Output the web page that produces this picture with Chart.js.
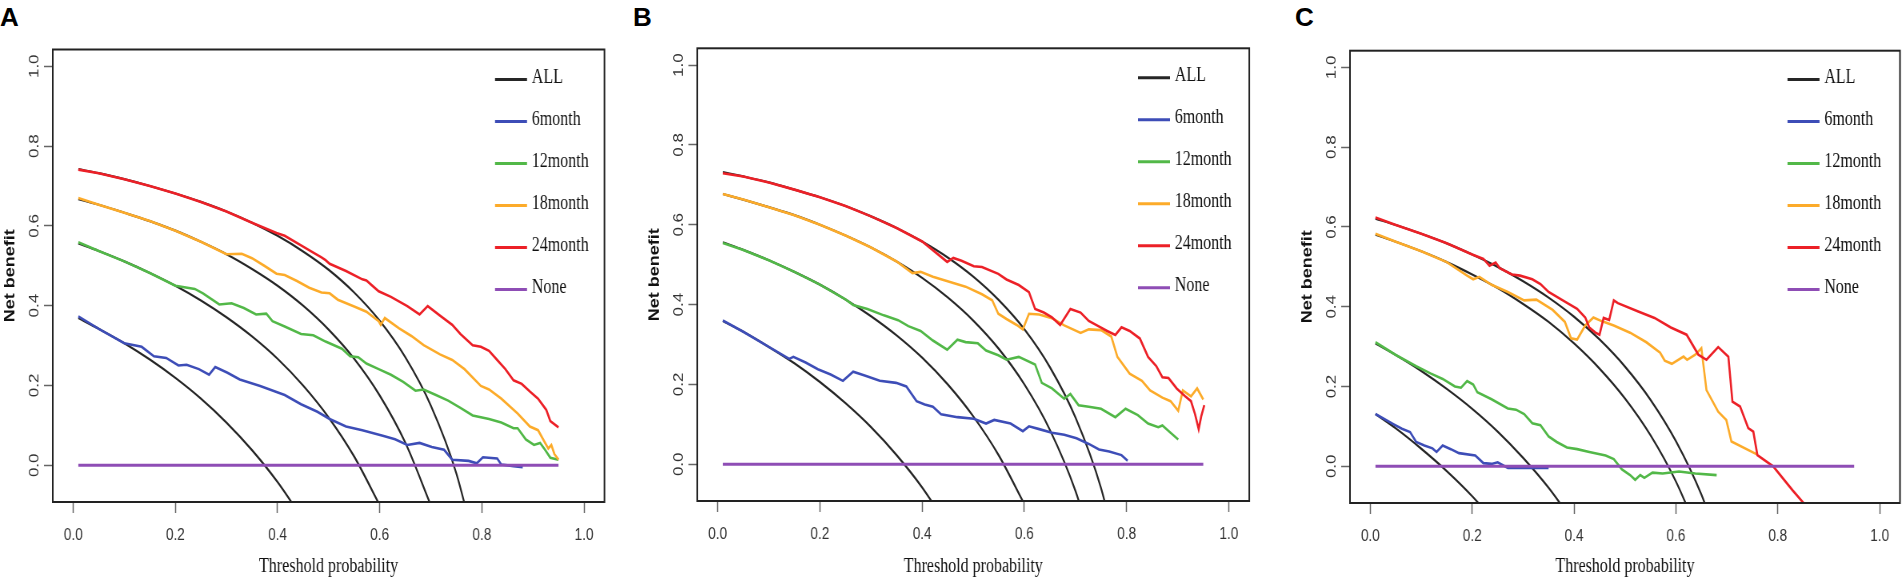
<!DOCTYPE html>
<html>
<head>
<meta charset="utf-8">
<script src="https://cdn.jsdelivr.net/npm/chart.js@4.4.1/dist/chart.umd.min.js"></script>
<style>
html, body { margin: 0; padding: 0; background: #fff; }
body { width: 1903px; height: 580px; position: relative; overflow: hidden; }
.panel { position: absolute; top: 0; transform: scaleX(0.8); transform-origin: 0 0; }
.tag { position: absolute; top: 3.6px; font: bold 26px "Liberation Sans", Arial, sans-serif; line-height: 26px; color: #000; }
</style>
</head>
<body>
<div class="tag" style="left:0px">A</div>
<div class="tag" style="left:633px">B</div>
<div class="tag" style="left:1295px">C</div>
<div class="panel" style="left:0px"><canvas id="cA" width="775" height="580"></canvas></div>
<div class="panel" style="left:630px"><canvas id="cB" width="800" height="580"></canvas></div>
<div class="panel" style="left:1270px"><canvas id="cC" width="791" height="580"></canvas></div>
<script>
// ticks
const X_TICKS = [0, 0.2, 0.4, 0.6, 0.8, 1.0];
const Y_TICKS = [0, 0.2, 0.4, 0.6, 0.8, 1.0];
const LEGEND_LABELS = ['ALL', '6month', '12month', '18month', '24month', 'None'];

// "treat all" curves, read at these thresholds (null = below the plot)
const T_ALL = [0.01, 0.05, 0.10, 0.15, 0.20, 0.25, 0.30, 0.35, 0.40, 0.45, 0.50, 0.55, 0.60, 0.65, 0.70, 0.75, 0.80];
const NONE_T = [0.01, 0.95];
const NONE_V = [0, 0];

// ---- panel A ----
const A_ALL6  = [0.369, 0.342, 0.306, 0.265, 0.219, 0.167, 0.107, 0.038, -0.042, -0.136, null, null, null, null, null, null, null];
const A_ALL12 = [0.556, 0.537, 0.511, 0.482, 0.450, 0.413, 0.371, 0.323, 0.267, 0.200, 0.120, 0.022, -0.100, null, null, null, null];
const A_ALL18 = [0.667, 0.653, 0.633, 0.612, 0.588, 0.560, 0.529, 0.492, 0.450, 0.400, 0.340, 0.267, 0.175, 0.057, -0.100, null, null];
const A_ALL24 = [0.742, 0.732, 0.717, 0.700, 0.681, 0.660, 0.636, 0.608, 0.575, 0.536, 0.490, 0.433, 0.362, 0.271, 0.150, -0.020, -0.275];

const A_T24 = [0.01, 0.05, 0.1, 0.15, 0.2, 0.25, 0.3, 0.35, 0.398, 0.414, 0.446, 0.47, 0.486, 0.494, 0.502, 0.534, 0.566, 0.574, 0.582, 0.598, 0.622, 0.654, 0.678, 0.694, 0.718, 0.742, 0.758, 0.782, 0.798, 0.814, 0.83, 0.846, 0.862, 0.878, 0.894, 0.91, 0.926, 0.934, 0.95];
const A_NB24 = [0.741, 0.732, 0.717, 0.70, 0.681, 0.66, 0.636, 0.608, 0.582, 0.575, 0.551, 0.533, 0.521, 0.514, 0.505, 0.487, 0.466, 0.463, 0.454, 0.436, 0.422, 0.399, 0.378, 0.399, 0.375, 0.352, 0.329, 0.301, 0.297, 0.287, 0.264, 0.241, 0.213, 0.204, 0.185, 0.167, 0.139, 0.111, 0.095];
const A_T18 = [0.01, 0.05, 0.1, 0.15, 0.2, 0.25, 0.3, 0.33, 0.35, 0.374, 0.398, 0.414, 0.438, 0.462, 0.486, 0.502, 0.518, 0.55, 0.574, 0.598, 0.602, 0.61, 0.638, 0.662, 0.686, 0.718, 0.742, 0.766, 0.798, 0.814, 0.838, 0.87, 0.894, 0.91, 0.922, 0.93, 0.936, 0.942, 0.95];
const A_NB18 = [0.67, 0.653, 0.633, 0.612, 0.588, 0.56, 0.529, 0.53, 0.519, 0.50, 0.48, 0.477, 0.462, 0.445, 0.433, 0.431, 0.415, 0.398, 0.385, 0.361, 0.352, 0.369, 0.343, 0.324, 0.301, 0.278, 0.264, 0.241, 0.199, 0.19, 0.167, 0.13, 0.097, 0.088, 0.06, 0.042, 0.051, 0.028, 0.014];
const A_T12 = [0.01, 0.05, 0.1, 0.15, 0.2, 0.238, 0.254, 0.286, 0.31, 0.334, 0.358, 0.378, 0.39, 0.414, 0.446, 0.47, 0.494, 0.526, 0.542, 0.558, 0.574, 0.598, 0.622, 0.646, 0.67, 0.686, 0.71, 0.734, 0.758, 0.782, 0.814, 0.838, 0.862, 0.87, 0.886, 0.902, 0.914, 0.922, 0.934, 0.95];
const A_NB12 = [0.559, 0.537, 0.511, 0.482, 0.45, 0.442, 0.431, 0.403, 0.406, 0.394, 0.378, 0.38, 0.361, 0.348, 0.329, 0.326, 0.31, 0.292, 0.273, 0.271, 0.255, 0.241, 0.227, 0.209, 0.187, 0.19, 0.176, 0.162, 0.144, 0.125, 0.116, 0.107, 0.093, 0.093, 0.065, 0.051, 0.056, 0.042, 0.019, 0.014];
const A_T6 = [0.01, 0.05, 0.1, 0.134, 0.158, 0.182, 0.206, 0.222, 0.246, 0.266, 0.278, 0.302, 0.326, 0.366, 0.414, 0.446, 0.478, 0.502, 0.534, 0.566, 0.606, 0.63, 0.654, 0.678, 0.702, 0.726, 0.742, 0.774, 0.79, 0.802, 0.83, 0.838, 0.862, 0.88];
const A_NB6 = [0.373, 0.342, 0.306, 0.297, 0.273, 0.269, 0.25, 0.252, 0.241, 0.227, 0.246, 0.232, 0.215, 0.199, 0.176, 0.153, 0.134, 0.116, 0.097, 0.088, 0.074, 0.065, 0.051, 0.056, 0.046, 0.039, 0.014, 0.011, 0.005, 0.02, 0.017, 0.002, -0.002, -0.005];

// ---- panel B ----
const B_ALL6  = [0.359, 0.332, 0.294, 0.253, 0.206, 0.153, 0.093, 0.023, -0.058, -0.155, null, null, null, null, null, null, null];
const B_ALL12 = [0.556, 0.537, 0.511, 0.482, 0.450, 0.413, 0.371, 0.323, 0.267, 0.200, 0.120, 0.022, -0.100, null, null, null, null];
const B_ALL18 = [0.677, 0.663, 0.644, 0.624, 0.600, 0.573, 0.543, 0.508, 0.467, 0.418, 0.360, 0.289, 0.200, 0.086, -0.067, -0.280, null];
const B_ALL24 = [0.732, 0.721, 0.706, 0.688, 0.669, 0.647, 0.621, 0.592, 0.558, 0.518, 0.470, 0.411, 0.338, 0.243, 0.117, -0.060, -0.325];

const B_T24 = [0.01, 0.05, 0.1, 0.15, 0.2, 0.25, 0.3, 0.35, 0.4, 0.449, 0.461, 0.477, 0.501, 0.517, 0.549, 0.565, 0.589, 0.609, 0.621, 0.638, 0.654, 0.67, 0.69, 0.71, 0.726, 0.742, 0.762, 0.778, 0.79, 0.806, 0.826, 0.842, 0.858, 0.87, 0.882, 0.898, 0.914, 0.926, 0.934, 0.941, 0.946, 0.952];
const B_NB24 = [0.729, 0.721, 0.706, 0.688, 0.669, 0.647, 0.621, 0.592, 0.558, 0.507, 0.517, 0.51, 0.496, 0.494, 0.477, 0.463, 0.449, 0.431, 0.389, 0.38, 0.368, 0.349, 0.389, 0.38, 0.359, 0.348, 0.334, 0.324, 0.343, 0.334, 0.315, 0.269, 0.246, 0.218, 0.216, 0.19, 0.171, 0.158, 0.125, 0.088, 0.12, 0.148];
const B_T18 = [0.01, 0.05, 0.1, 0.15, 0.2, 0.25, 0.3, 0.35, 0.381, 0.397, 0.421, 0.461, 0.485, 0.517, 0.537, 0.549, 0.565, 0.585, 0.597, 0.609, 0.629, 0.654, 0.678, 0.71, 0.726, 0.75, 0.77, 0.782, 0.806, 0.83, 0.846, 0.87, 0.886, 0.901, 0.91, 0.926, 0.938, 0.95];
const B_NB18 = [0.677, 0.663, 0.644, 0.624, 0.60, 0.573, 0.543, 0.508, 0.479, 0.482, 0.47, 0.454, 0.445, 0.426, 0.411, 0.377, 0.364, 0.349, 0.338, 0.377, 0.375, 0.366, 0.348, 0.329, 0.338, 0.336, 0.32, 0.269, 0.227, 0.209, 0.185, 0.167, 0.158, 0.134, 0.185, 0.17, 0.19, 0.162];
const B_T12 = [0.01, 0.05, 0.1, 0.15, 0.2, 0.25, 0.265, 0.293, 0.325, 0.353, 0.373, 0.397, 0.421, 0.449, 0.469, 0.485, 0.509, 0.525, 0.549, 0.565, 0.589, 0.621, 0.634, 0.654, 0.678, 0.69, 0.706, 0.726, 0.75, 0.778, 0.798, 0.822, 0.842, 0.862, 0.87, 0.886, 0.901];
const B_NB12 = [0.554, 0.537, 0.511, 0.482, 0.45, 0.413, 0.399, 0.389, 0.373, 0.361, 0.346, 0.334, 0.31, 0.287, 0.312, 0.306, 0.303, 0.285, 0.273, 0.262, 0.269, 0.25, 0.204, 0.19, 0.164, 0.176, 0.148, 0.144, 0.139, 0.118, 0.139, 0.123, 0.102, 0.093, 0.097, 0.079, 0.062];
const B_T6 = [0.01, 0.05, 0.1, 0.14, 0.148, 0.172, 0.196, 0.221, 0.245, 0.265, 0.289, 0.317, 0.349, 0.369, 0.389, 0.405, 0.421, 0.437, 0.469, 0.501, 0.525, 0.541, 0.573, 0.597, 0.609, 0.629, 0.654, 0.678, 0.702, 0.726, 0.746, 0.766, 0.79, 0.802];
const B_NB6 = [0.36, 0.332, 0.294, 0.264, 0.269, 0.255, 0.238, 0.225, 0.209, 0.232, 0.222, 0.209, 0.204, 0.195, 0.158, 0.15, 0.144, 0.125, 0.118, 0.114, 0.102, 0.111, 0.102, 0.083, 0.095, 0.088, 0.079, 0.074, 0.065, 0.051, 0.037, 0.032, 0.023, 0.009];

// ---- panel C ----
const C_ALL6  = [0.131, 0.095, 0.044, -0.012, -0.075, -0.147, null, null, null, null, null, null, null, null, null, null, null];
const C_ALL12 = [0.308, 0.279, 0.239, 0.194, 0.144, 0.087, 0.021, -0.054, -0.142, null, null, null, null, null, null, null, null];
const C_ALL18 = [0.581, 0.563, 0.539, 0.512, 0.481, 0.447, 0.407, 0.362, 0.308, 0.245, 0.170, 0.078, -0.038, -0.186, null, null, null];
const C_ALL24 = [0.621, 0.605, 0.583, 0.559, 0.531, 0.500, 0.464, 0.423, 0.375, 0.318, 0.250, 0.167, 0.063, -0.071, -0.250, null, null];

const C_T24 = [0.01, 0.05, 0.1, 0.15, 0.2, 0.222, 0.234, 0.246, 0.254, 0.278, 0.294, 0.318, 0.334, 0.35, 0.382, 0.406, 0.422, 0.43, 0.442, 0.45, 0.458, 0.469, 0.478, 0.486, 0.526, 0.558, 0.59, 0.621, 0.644, 0.66, 0.683, 0.703, 0.711, 0.726, 0.742, 0.752, 0.76, 0.791, 0.829, 0.85, 0.86];
const C_NB24 = [0.624, 0.605, 0.583, 0.559, 0.531, 0.52, 0.503, 0.511, 0.497, 0.481, 0.478, 0.469, 0.457, 0.437, 0.413, 0.395, 0.373, 0.348, 0.335, 0.33, 0.372, 0.367, 0.416, 0.409, 0.388, 0.372, 0.348, 0.33, 0.28, 0.267, 0.299, 0.275, 0.162, 0.15, 0.096, 0.087, 0.028, 0.0, -0.06, -0.091, -0.11];
const C_T18 = [0.01, 0.05, 0.1, 0.15, 0.19, 0.202, 0.214, 0.238, 0.27, 0.302, 0.326, 0.358, 0.382, 0.394, 0.406, 0.422, 0.438, 0.454, 0.478, 0.51, 0.542, 0.569, 0.578, 0.592, 0.615, 0.622, 0.638, 0.65, 0.66, 0.683, 0.699, 0.709, 0.759];
const C_NB18 = [0.583, 0.563, 0.539, 0.512, 0.478, 0.469, 0.475, 0.455, 0.437, 0.416, 0.418, 0.392, 0.362, 0.321, 0.318, 0.353, 0.373, 0.364, 0.353, 0.335, 0.311, 0.285, 0.265, 0.257, 0.275, 0.267, 0.28, 0.296, 0.191, 0.137, 0.116, 0.062, 0.03];
const C_T12 = [0.01, 0.05, 0.09, 0.118, 0.142, 0.166, 0.178, 0.19, 0.202, 0.21, 0.238, 0.27, 0.286, 0.302, 0.318, 0.334, 0.35, 0.366, 0.386, 0.406, 0.43, 0.462, 0.478, 0.494, 0.51, 0.52, 0.53, 0.538, 0.554, 0.574, 0.606, 0.638, 0.68];
const C_NB12 = [0.311, 0.279, 0.251, 0.233, 0.219, 0.2, 0.197, 0.214, 0.205, 0.186, 0.168, 0.145, 0.142, 0.131, 0.108, 0.103, 0.075, 0.061, 0.047, 0.043, 0.036, 0.027, 0.018, -0.008, -0.022, -0.034, -0.022, -0.029, -0.016, -0.018, -0.013, -0.018, -0.022];
const C_T6 = [0.01, 0.046, 0.062, 0.078, 0.09, 0.106, 0.122, 0.13, 0.142, 0.158, 0.174, 0.206, 0.222, 0.238, 0.25, 0.27, 0.31, 0.35];
const C_NB6 = [0.131, 0.105, 0.094, 0.086, 0.061, 0.052, 0.045, 0.036, 0.052, 0.043, 0.033, 0.027, 0.008, 0.006, 0.01, -0.004, -0.004, -0.004];

const COL = { all: '#262626', m6: '#3d4db7', m12: '#52b848', m18: '#fcab2a', m24: '#ec2027', none: '#8e4db5' };
const LEGEND_COLORS = [COL.all, COL.m6, COL.m12, COL.m18, COL.m24, COL.none];

const SANS = '"Liberation Sans", Arial, sans-serif';
const SERIF = '"Liberation Serif", "Times New Roman", serif';

function series(t, v, color, width, smooth) {
  return {
    data: t.map((x, i) => ({ x: x, y: v[i] })),
    borderColor: color,
    borderWidth: width,
    pointRadius: 0,
    fill: false,
    tension: 0,
    cubicInterpolationMode: smooth ? 'monotone' : 'default',
    spanGaps: false
  };
}

// box round the plot region, like R's bty="o"
const boxPlugin = {
  id: 'rBox',
  afterDatasetsDraw(chart) {
    const a = chart.chartArea, ctx = chart.ctx;
    ctx.save();
    ctx.strokeStyle = '#222';
    ctx.lineWidth = 2;
    ctx.strokeRect(a.left, a.top, a.right - a.left, a.bottom - a.top);
    ctx.restore();
  }
};

// legend inside the plot, line then label
const legendPlugin = {
  id: 'rLegend',
  afterDraw(chart, args, opts) {
    const a = chart.chartArea, ctx = chart.ctx;
    ctx.save();
    ctx.font = '20px ' + SERIF;
    ctx.textBaseline = 'middle';
    ctx.textAlign = 'left';
    LEGEND_LABELS.forEach((lab, i) => {
      const x = a.left + opts.x;
      const y = a.top + opts.y0 + i * opts.gap;
      ctx.strokeStyle = LEGEND_COLORS[i];
      ctx.lineWidth = 3;
      ctx.beginPath();
      ctx.moveTo(x, y);
      ctx.lineTo(x + 40, y);
      ctx.stroke();
      ctx.fillStyle = '#111';
      ctx.fillText(lab, x + 46, y - 2);
    });
    ctx.restore();
  }
};

function makePanel(id, d, lay) {
  new Chart(document.getElementById(id), {
    type: 'line',
    data: {
      datasets: [
        series(NONE_T, NONE_V, COL.none, 3),
        series(d.t24, d.v24, COL.m24, 2.6),
        series(d.t18, d.v18, COL.m18, 2.6),
        series(d.t12, d.v12, COL.m12, 2.6),
        series(d.t6, d.v6, COL.m6, 2.6),
        series(T_ALL, d.all24, COL.all, 2.2, true),
        series(T_ALL, d.all18, COL.all, 2.2, true),
        series(T_ALL, d.all12, COL.all, 2.2, true),
        series(T_ALL, d.all6, COL.all, 2.2, true)
      ]
    },
    options: {
      responsive: false,
      animation: false,
      events: [],
      layout: { padding: { left: lay.padL, right: lay.padR, top: lay.top, bottom: 0 } },
      plugins: {
        legend: { display: false },
        tooltip: { enabled: false },
        rLegend: lay.legend
      },
      scales: {
        x: {
          type: 'linear', min: -0.04, max: 1.04,
          afterBuildTicks: s => { s.ticks = X_TICKS.map(v => ({ value: v })); },
          afterFit: s => { s.height = lay.xh; },
          grid: { drawOnChartArea: false, drawTicks: true, tickLength: 11, tickWidth: 1.5, tickColor: '#666' },
          border: { display: false },
          ticks: { autoSkip: false, minRotation: 0, maxRotation: 0, padding: 12, color: '#333',
            font: { family: SANS, size: 17 }, callback: v => v.toFixed(1) },
          title: { display: true, text: 'Threshold probability', color: '#111',
            font: { family: SERIF, size: 20 }, padding: { top: 0, bottom: 1 } }
        },
        y: {
          type: 'linear', min: -0.092, max: 1.042,
          afterBuildTicks: s => { s.ticks = Y_TICKS.map(v => ({ value: v })); },
          afterFit: s => { s.width = 66; },
          grid: { drawOnChartArea: false, drawTicks: true, tickLength: 11, tickWidth: 1.5, tickColor: '#666' },
          border: { display: false },
          ticks: { autoSkip: false, minRotation: 90, maxRotation: 90, crossAlign: 'center', padding: 0, color: '#333',
            font: { family: SANS, size: 17 }, callback: v => v.toFixed(1) },
          title: { display: true, text: 'Net benefit', color: '#111',
            font: { family: SANS, size: 18, weight: 'bold' }, padding: { top: 2, bottom: 0 } }
        }
      }
    },
    plugins: [boxPlugin, legendPlugin]
  });
}

makePanel('cA', {
  t24: A_T24, v24: A_NB24, t18: A_T18, v18: A_NB18, t12: A_T12, v12: A_NB12, t6: A_T6, v6: A_NB6,
  all6: A_ALL6, all12: A_ALL12, all18: A_ALL18, all24: A_ALL24
}, { padL: 0, padR: 19.4, top: 49.5, xh: 78, legend: { x: 552.8, y0: 30, gap: 42 } });

makePanel('cB', {
  t24: B_T24, v24: B_NB24, t18: B_T18, v18: B_NB18, t12: B_T12, v12: B_NB12, t6: B_T6, v6: B_NB6,
  all6: B_ALL6, all12: B_ALL12, all18: B_ALL18, all24: B_ALL24
}, { padL: 18.1, padR: 25.9, top: 48.3, xh: 79, legend: { x: 550.9, y0: 29.4, gap: 42 } });

makePanel('cC', {
  t24: C_T24, v24: C_NB24, t18: C_T18, v18: C_NB18, t12: C_T12, v12: C_NB12, t6: C_T6, v6: C_NB6,
  all6: C_ALL6, all12: C_ALL12, all18: C_ALL18, all24: C_ALL24
}, { padL: 34, padR: 3.5, top: 50.7, xh: 77, legend: { x: 546.9, y0: 28.8, gap: 42 } });
</script>
</body>
</html>
